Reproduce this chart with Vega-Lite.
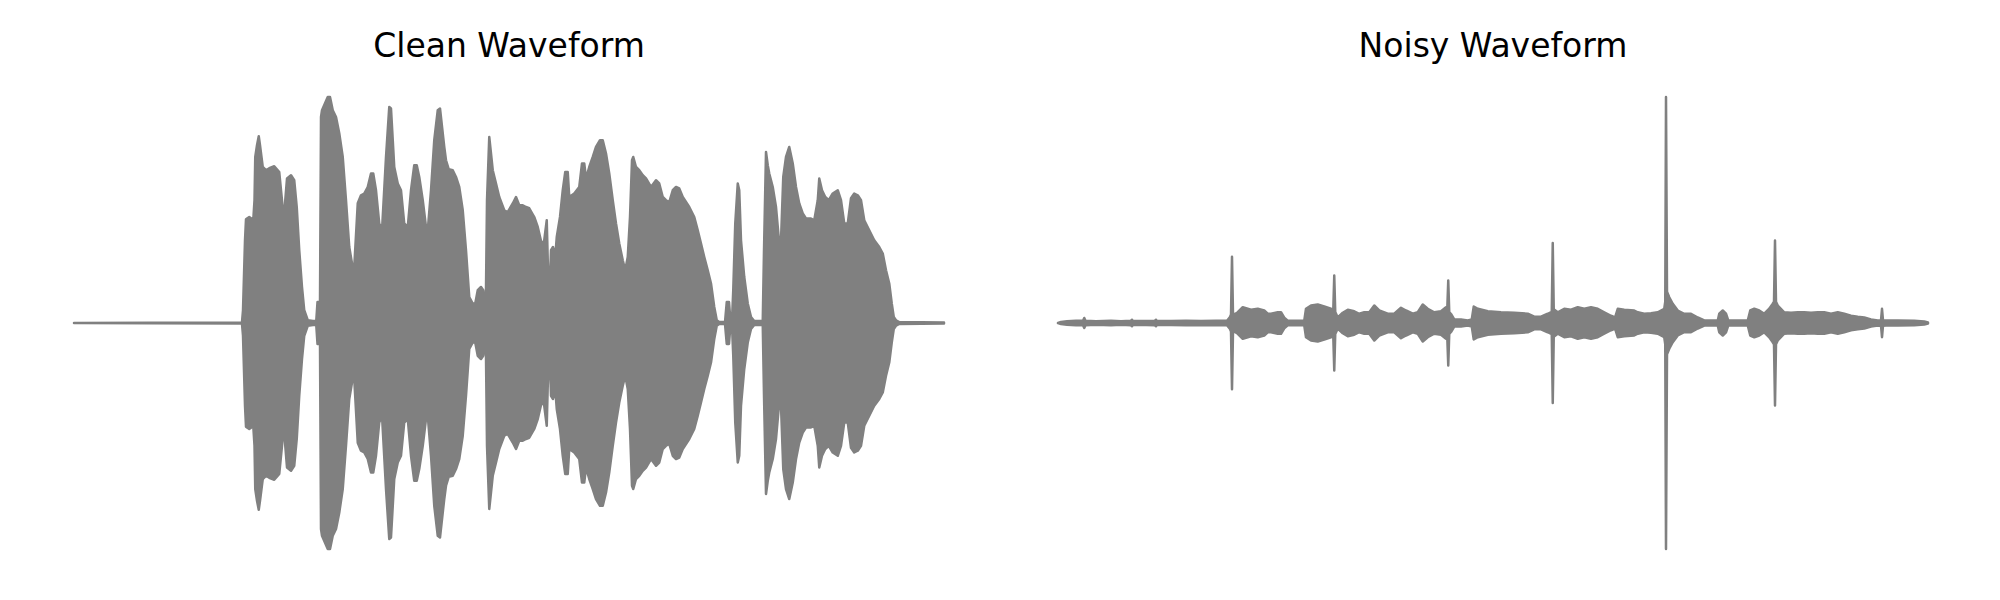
{
"$schema": "https://vega.github.io/schema/vega-lite/v6.json",
"background": "white",
"padding": {"left": 72, "top": 30, "right": 0, "bottom": 0},
"spacing": 110,
"config": {"view": {"stroke": null}},
"datasets": {
"clean": [
{"t":0,"hi":0,"lo":0},{"t":0.308,"hi":0.001,"lo":-0.001},{"t":0.668,"hi":0.002,"lo":-0.002},{"t":0.672,"hi":0.004,"lo":-0.004},{"t":0.676,"hi":0.051,"lo":-0.051},{"t":0.684,"hi":0.331,"lo":-0.331},{"t":0.688,"hi":0.415,"lo":-0.415},{"t":0.692,"hi":0.418,"lo":-0.418},{"t":0.701,"hi":0.424,"lo":-0.424},{"t":0.708,"hi":0.419,"lo":-0.419},{"t":0.717,"hi":0.411,"lo":-0.411},{"t":0.722,"hi":0.491,"lo":-0.491},{"t":0.725,"hi":0.664,"lo":-0.664},{"t":0.732,"hi":0.711,"lo":-0.711},{"t":0.739,"hi":0.747,"lo":-0.747},{"t":0.744,"hi":0.711,"lo":-0.711},{"t":0.755,"hi":0.624,"lo":-0.624},{"t":0.768,"hi":0.611,"lo":-0.611},{"t":0.781,"hi":0.619,"lo":-0.619},{"t":0.801,"hi":0.627,"lo":-0.627},{"t":0.815,"hi":0.611,"lo":-0.611},{"t":0.821,"hi":0.604,"lo":-0.604},{"t":0.832,"hi":0.491,"lo":-0.491},{"t":0.841,"hi":0.404,"lo":-0.404},{"t":0.845,"hi":0.491,"lo":-0.491},{"t":0.852,"hi":0.578,"lo":-0.578},{"t":0.868,"hi":0.591,"lo":-0.591},{"t":0.881,"hi":0.571,"lo":-0.571},{"t":0.891,"hi":0.464,"lo":-0.464},{"t":0.901,"hi":0.291,"lo":-0.291},{"t":0.912,"hi":0.144,"lo":-0.144},{"t":0.921,"hi":0.051,"lo":-0.051},{"t":0.935,"hi":0.011,"lo":-0.011},{"t":0.956,"hi":0.008,"lo":-0.008},{"t":0.969,"hi":0.008,"lo":-0.008},{"t":0.974,"hi":0.084,"lo":-0.084},{"t":0.984,"hi":0.084,"lo":-0.084},{"t":0.988,"hi":0.824,"lo":-0.824},{"t":0.992,"hi":0.851,"lo":-0.851},{"t":1.015,"hi":0.904,"lo":-0.904},{"t":1.024,"hi":0.904,"lo":-0.904},{"t":1.035,"hi":0.851,"lo":-0.851},{"t":1.048,"hi":0.824,"lo":-0.824},{"t":1.061,"hi":0.759,"lo":-0.759},{"t":1.075,"hi":0.664,"lo":-0.664},{"t":1.088,"hi":0.491,"lo":-0.491},{"t":1.101,"hi":0.304,"lo":-0.304},{"t":1.112,"hi":0.238,"lo":-0.238},{"t":1.121,"hi":0.224,"lo":-0.224},{"t":1.135,"hi":0.479,"lo":-0.479},{"t":1.148,"hi":0.511,"lo":-0.511},{"t":1.161,"hi":0.518,"lo":-0.518},{"t":1.175,"hi":0.544,"lo":-0.544},{"t":1.188,"hi":0.598,"lo":-0.598},{"t":1.197,"hi":0.598,"lo":-0.598},{"t":1.208,"hi":0.531,"lo":-0.531},{"t":1.221,"hi":0.398,"lo":-0.398},{"t":1.232,"hi":0.371,"lo":-0.371},{"t":1.248,"hi":0.664,"lo":-0.664},{"t":1.261,"hi":0.864,"lo":-0.864},{"t":1.268,"hi":0.858,"lo":-0.858},{"t":1.281,"hi":0.624,"lo":-0.624},{"t":1.295,"hi":0.558,"lo":-0.558},{"t":1.308,"hi":0.531,"lo":-0.531},{"t":1.321,"hi":0.398,"lo":-0.398},{"t":1.335,"hi":0.384,"lo":-0.384},{"t":1.348,"hi":0.531,"lo":-0.531},{"t":1.361,"hi":0.631,"lo":-0.631},{"t":1.371,"hi":0.631,"lo":-0.631},{"t":1.381,"hi":0.584,"lo":-0.584},{"t":1.395,"hi":0.491,"lo":-0.491},{"t":1.408,"hi":0.384,"lo":-0.384},{"t":1.415,"hi":0.371,"lo":-0.371},{"t":1.428,"hi":0.531,"lo":-0.531},{"t":1.441,"hi":0.731,"lo":-0.731},{"t":1.455,"hi":0.851,"lo":-0.851},{"t":1.464,"hi":0.858,"lo":-0.858},{"t":1.481,"hi":0.704,"lo":-0.704},{"t":1.488,"hi":0.651,"lo":-0.651},{"t":1.499,"hi":0.615,"lo":-0.615},{"t":1.515,"hi":0.611,"lo":-0.611},{"t":1.528,"hi":0.584,"lo":-0.584},{"t":1.541,"hi":0.544,"lo":-0.544},{"t":1.555,"hi":0.451,"lo":-0.451},{"t":1.568,"hi":0.291,"lo":-0.291},{"t":1.581,"hi":0.104,"lo":-0.104},{"t":1.595,"hi":0.078,"lo":-0.078},{"t":1.605,"hi":0.078,"lo":-0.078},{"t":1.615,"hi":0.131,"lo":-0.131},{"t":1.628,"hi":0.144,"lo":-0.144},{"t":1.637,"hi":0.131,"lo":-0.131},{"t":1.647,"hi":0.048,"lo":-0.048},{"t":1.652,"hi":0.491,"lo":-0.491},{"t":1.661,"hi":0.744,"lo":-0.744},{"t":1.675,"hi":0.611,"lo":-0.611},{"t":1.688,"hi":0.558,"lo":-0.558},{"t":1.701,"hi":0.504,"lo":-0.504},{"t":1.721,"hi":0.451,"lo":-0.451},{"t":1.735,"hi":0.444,"lo":-0.444},{"t":1.755,"hi":0.478,"lo":-0.478},{"t":1.768,"hi":0.504,"lo":-0.504},{"t":1.781,"hi":0.471,"lo":-0.471},{"t":1.795,"hi":0.471,"lo":-0.471},{"t":1.808,"hi":0.464,"lo":-0.464},{"t":1.821,"hi":0.459,"lo":-0.459},{"t":1.841,"hi":0.424,"lo":-0.424},{"t":1.855,"hi":0.384,"lo":-0.384},{"t":1.872,"hi":0.311,"lo":-0.311},{"t":1.881,"hi":0.331,"lo":-0.331},{"t":1.891,"hi":0.411,"lo":-0.411},{"t":1.895,"hi":0.251,"lo":-0.251},{"t":1.901,"hi":0.079,"lo":-0.079},{"t":1.908,"hi":0.291,"lo":-0.291},{"t":1.916,"hi":0.304,"lo":-0.304},{"t":1.925,"hi":0.264,"lo":-0.264},{"t":1.931,"hi":0.344,"lo":-0.344},{"t":1.944,"hi":0.424,"lo":-0.424},{"t":1.955,"hi":0.531,"lo":-0.531},{"t":1.965,"hi":0.604,"lo":-0.604},{"t":1.975,"hi":0.604,"lo":-0.604},{"t":1.981,"hi":0.504,"lo":-0.504},{"t":2.001,"hi":0.518,"lo":-0.518},{"t":2.021,"hi":0.544,"lo":-0.544},{"t":2.032,"hi":0.638,"lo":-0.638},{"t":2.041,"hi":0.638,"lo":-0.638},{"t":2.048,"hi":0.578,"lo":-0.578},{"t":2.061,"hi":0.624,"lo":-0.624},{"t":2.075,"hi":0.664,"lo":-0.664},{"t":2.088,"hi":0.704,"lo":-0.704},{"t":2.104,"hi":0.731,"lo":-0.731},{"t":2.115,"hi":0.731,"lo":-0.731},{"t":2.128,"hi":0.678,"lo":-0.678},{"t":2.141,"hi":0.598,"lo":-0.598},{"t":2.155,"hi":0.491,"lo":-0.491},{"t":2.168,"hi":0.398,"lo":-0.398},{"t":2.181,"hi":0.318,"lo":-0.318},{"t":2.195,"hi":0.251,"lo":-0.251},{"t":2.205,"hi":0.211,"lo":-0.211},{"t":2.215,"hi":0.264,"lo":-0.264},{"t":2.224,"hi":0.424,"lo":-0.424},{"t":2.232,"hi":0.651,"lo":-0.651},{"t":2.237,"hi":0.664,"lo":-0.664},{"t":2.248,"hi":0.624,"lo":-0.624},{"t":2.261,"hi":0.611,"lo":-0.611},{"t":2.275,"hi":0.591,"lo":-0.591},{"t":2.288,"hi":0.578,"lo":-0.578},{"t":2.308,"hi":0.544,"lo":-0.544},{"t":2.328,"hi":0.571,"lo":-0.571},{"t":2.341,"hi":0.558,"lo":-0.558},{"t":2.355,"hi":0.504,"lo":-0.504},{"t":2.368,"hi":0.491,"lo":-0.491},{"t":2.381,"hi":0.484,"lo":-0.484},{"t":2.395,"hi":0.531,"lo":-0.531},{"t":2.408,"hi":0.544,"lo":-0.544},{"t":2.421,"hi":0.538,"lo":-0.538},{"t":2.435,"hi":0.504,"lo":-0.504},{"t":2.448,"hi":0.484,"lo":-0.484},{"t":2.461,"hi":0.464,"lo":-0.464},{"t":2.481,"hi":0.424,"lo":-0.424},{"t":2.495,"hi":0.371,"lo":-0.371},{"t":2.508,"hi":0.318,"lo":-0.318},{"t":2.521,"hi":0.264,"lo":-0.264},{"t":2.535,"hi":0.211,"lo":-0.211},{"t":2.548,"hi":0.158,"lo":-0.158},{"t":2.561,"hi":0.064,"lo":-0.064},{"t":2.571,"hi":0.011,"lo":-0.011},{"t":2.581,"hi":0.004,"lo":-0.004},{"t":2.604,"hi":0.004,"lo":-0.004},{"t":2.611,"hi":0.084,"lo":-0.084},{"t":2.62,"hi":0.084,"lo":-0.084},{"t":2.625,"hi":0.019,"lo":-0.019},{"t":2.632,"hi":0.012,"lo":-0.012},{"t":2.637,"hi":0.131,"lo":-0.131},{"t":2.645,"hi":0.398,"lo":-0.398},{"t":2.655,"hi":0.558,"lo":-0.558},{"t":2.661,"hi":0.531,"lo":-0.531},{"t":2.668,"hi":0.331,"lo":-0.331},{"t":2.681,"hi":0.184,"lo":-0.184},{"t":2.695,"hi":0.078,"lo":-0.078},{"t":2.708,"hi":0.024,"lo":-0.024},{"t":2.721,"hi":0.008,"lo":-0.008},{"t":2.755,"hi":0.008,"lo":-0.008},{"t":2.76,"hi":0.291,"lo":-0.291},{"t":2.768,"hi":0.684,"lo":-0.684},{"t":2.775,"hi":0.631,"lo":-0.631},{"t":2.781,"hi":0.598,"lo":-0.598},{"t":2.795,"hi":0.544,"lo":-0.544},{"t":2.808,"hi":0.464,"lo":-0.464},{"t":2.821,"hi":0.318,"lo":-0.318},{"t":2.828,"hi":0.331,"lo":-0.331},{"t":2.837,"hi":0.584,"lo":-0.584},{"t":2.848,"hi":0.664,"lo":-0.664},{"t":2.861,"hi":0.704,"lo":-0.704},{"t":2.875,"hi":0.638,"lo":-0.638},{"t":2.888,"hi":0.544,"lo":-0.544},{"t":2.901,"hi":0.478,"lo":-0.478},{"t":2.915,"hi":0.438,"lo":-0.438},{"t":2.928,"hi":0.418,"lo":-0.418},{"t":2.948,"hi":0.418,"lo":-0.418},{"t":2.961,"hi":0.411,"lo":-0.411},{"t":2.975,"hi":0.491,"lo":-0.491},{"t":2.981,"hi":0.578,"lo":-0.578},{"t":2.992,"hi":0.531,"lo":-0.531},{"t":3.005,"hi":0.504,"lo":-0.504},{"t":3.019,"hi":0.491,"lo":-0.491},{"t":3.035,"hi":0.518,"lo":-0.518},{"t":3.055,"hi":0.531,"lo":-0.531},{"t":3.068,"hi":0.491,"lo":-0.491},{"t":3.081,"hi":0.398,"lo":-0.398},{"t":3.095,"hi":0.398,"lo":-0.398},{"t":3.108,"hi":0.499,"lo":-0.499},{"t":3.121,"hi":0.518,"lo":-0.518},{"t":3.135,"hi":0.511,"lo":-0.511},{"t":3.148,"hi":0.491,"lo":-0.491},{"t":3.161,"hi":0.411,"lo":-0.411},{"t":3.181,"hi":0.371,"lo":-0.371},{"t":3.201,"hi":0.331,"lo":-0.331},{"t":3.221,"hi":0.304,"lo":-0.304},{"t":3.235,"hi":0.278,"lo":-0.278},{"t":3.248,"hi":0.211,"lo":-0.211},{"t":3.261,"hi":0.158,"lo":-0.158},{"t":3.271,"hi":0.078,"lo":-0.078},{"t":3.279,"hi":0.024,"lo":-0.024},{"t":3.288,"hi":0.011,"lo":-0.011},{"t":3.301,"hi":0.004,"lo":-0.004},{"t":3.48,"hi":0.002,"lo":-0.002}
],
"noisy": [
{"t":0,"hi":0,"lo":0},{"t":0.012,"hi":0.004,"lo":-0.004},{"t":0.036,"hi":0.007,"lo":-0.007},{"t":0.072,"hi":0.009,"lo":-0.009},{"t":0.1,"hi":0.009,"lo":-0.009},{"t":0.105,"hi":0.02,"lo":-0.02},{"t":0.11,"hi":0.009,"lo":-0.009},{"t":0.152,"hi":0.007,"lo":-0.007},{"t":0.212,"hi":0.009,"lo":-0.009},{"t":0.252,"hi":0.007,"lo":-0.007},{"t":0.292,"hi":0.009,"lo":-0.009},{"t":0.296,"hi":0.013,"lo":-0.013},{"t":0.3,"hi":0.008,"lo":-0.008},{"t":0.352,"hi":0.008,"lo":-0.008},{"t":0.388,"hi":0.009,"lo":-0.009},{"t":0.392,"hi":0.013,"lo":-0.013},{"t":0.396,"hi":0.008,"lo":-0.008},{"t":0.452,"hi":0.008,"lo":-0.008},{"t":0.512,"hi":0.009,"lo":-0.009},{"t":0.572,"hi":0.008,"lo":-0.008},{"t":0.632,"hi":0.009,"lo":-0.009},{"t":0.676,"hi":0.009,"lo":-0.009},{"t":0.688,"hi":0.024,"lo":-0.024},{"t":0.692,"hi":0.034,"lo":-0.034},{"t":0.696,"hi":0.265,"lo":-0.265},{"t":0.7,"hi":0.034,"lo":-0.034},{"t":0.708,"hi":0.036,"lo":-0.036},{"t":0.719,"hi":0.043,"lo":-0.043},{"t":0.739,"hi":0.063,"lo":-0.063},{"t":0.772,"hi":0.053,"lo":-0.053},{"t":0.799,"hi":0.057,"lo":-0.057},{"t":0.825,"hi":0.05,"lo":-0.05},{"t":0.839,"hi":0.037,"lo":-0.037},{"t":0.852,"hi":0.037,"lo":-0.037},{"t":0.879,"hi":0.043,"lo":-0.043},{"t":0.892,"hi":0.043,"lo":-0.043},{"t":0.905,"hi":0.021,"lo":-0.021},{"t":0.919,"hi":0.009,"lo":-0.009},{"t":0.985,"hi":0.009,"lo":-0.009},{"t":0.992,"hi":0.057,"lo":-0.057},{"t":1.012,"hi":0.07,"lo":-0.07},{"t":1.039,"hi":0.074,"lo":-0.074},{"t":1.065,"hi":0.066,"lo":-0.066},{"t":1.092,"hi":0.057,"lo":-0.057},{"t":1.101,"hi":0.05,"lo":-0.05},{"t":1.105,"hi":0.19,"lo":-0.19},{"t":1.109,"hi":0.044,"lo":-0.044},{"t":1.119,"hi":0.022,"lo":-0.022},{"t":1.139,"hi":0.041,"lo":-0.041},{"t":1.159,"hi":0.053,"lo":-0.053},{"t":1.185,"hi":0.047,"lo":-0.047},{"t":1.205,"hi":0.037,"lo":-0.037},{"t":1.225,"hi":0.043,"lo":-0.043},{"t":1.245,"hi":0.043,"lo":-0.043},{"t":1.265,"hi":0.07,"lo":-0.07},{"t":1.285,"hi":0.05,"lo":-0.05},{"t":1.319,"hi":0.037,"lo":-0.037},{"t":1.345,"hi":0.037,"lo":-0.037},{"t":1.372,"hi":0.061,"lo":-0.061},{"t":1.392,"hi":0.05,"lo":-0.05},{"t":1.419,"hi":0.037,"lo":-0.037},{"t":1.439,"hi":0.043,"lo":-0.043},{"t":1.459,"hi":0.074,"lo":-0.074},{"t":1.479,"hi":0.057,"lo":-0.057},{"t":1.505,"hi":0.043,"lo":-0.043},{"t":1.532,"hi":0.047,"lo":-0.047},{"t":1.552,"hi":0.063,"lo":-0.063},{"t":1.557,"hi":0.055,"lo":-0.055},{"t":1.561,"hi":0.17,"lo":-0.17},{"t":1.565,"hi":0.044,"lo":-0.044},{"t":1.572,"hi":0.036,"lo":-0.036},{"t":1.585,"hi":0.014,"lo":-0.014},{"t":1.612,"hi":0.014,"lo":-0.014},{"t":1.639,"hi":0.01,"lo":-0.01},{"t":1.655,"hi":0.014,"lo":-0.014},{"t":1.663,"hi":0.066,"lo":-0.066},{"t":1.679,"hi":0.057,"lo":-0.057},{"t":1.719,"hi":0.047,"lo":-0.047},{"t":1.772,"hi":0.043,"lo":-0.043},{"t":1.825,"hi":0.041,"lo":-0.041},{"t":1.879,"hi":0.037,"lo":-0.037},{"t":1.905,"hi":0.025,"lo":-0.025},{"t":1.932,"hi":0.025,"lo":-0.025},{"t":1.959,"hi":0.037,"lo":-0.037},{"t":1.975,"hi":0.045,"lo":-0.045},{"t":1.979,"hi":0.32,"lo":-0.32},{"t":1.983,"hi":0.055,"lo":-0.055},{"t":1.999,"hi":0.043,"lo":-0.043},{"t":2.025,"hi":0.057,"lo":-0.057},{"t":2.052,"hi":0.053,"lo":-0.053},{"t":2.079,"hi":0.063,"lo":-0.063},{"t":2.105,"hi":0.057,"lo":-0.057},{"t":2.132,"hi":0.063,"lo":-0.063},{"t":2.159,"hi":0.057,"lo":-0.057},{"t":2.185,"hi":0.043,"lo":-0.043},{"t":2.212,"hi":0.029,"lo":-0.029},{"t":2.228,"hi":0.022,"lo":-0.022},{"t":2.239,"hi":0.057,"lo":-0.057},{"t":2.265,"hi":0.053,"lo":-0.053},{"t":2.305,"hi":0.05,"lo":-0.05},{"t":2.319,"hi":0.043,"lo":-0.043},{"t":2.345,"hi":0.037,"lo":-0.037},{"t":2.372,"hi":0.039,"lo":-0.039},{"t":2.399,"hi":0.043,"lo":-0.043},{"t":2.425,"hi":0.057,"lo":-0.057},{"t":2.429,"hi":0.085,"lo":-0.085},{"t":2.432,"hi":0.904,"lo":-0.904},{"t":2.436,"hi":0.125,"lo":-0.125},{"t":2.445,"hi":0.103,"lo":-0.103},{"t":2.459,"hi":0.077,"lo":-0.077},{"t":2.479,"hi":0.05,"lo":-0.05},{"t":2.505,"hi":0.037,"lo":-0.037},{"t":2.532,"hi":0.037,"lo":-0.037},{"t":2.559,"hi":0.022,"lo":-0.022},{"t":2.585,"hi":0.01,"lo":-0.01},{"t":2.639,"hi":0.01,"lo":-0.01},{"t":2.645,"hi":0.037,"lo":-0.037},{"t":2.659,"hi":0.05,"lo":-0.05},{"t":2.672,"hi":0.037,"lo":-0.037},{"t":2.681,"hi":0.01,"lo":-0.01},{"t":2.759,"hi":0.01,"lo":-0.01},{"t":2.769,"hi":0.05,"lo":-0.05},{"t":2.785,"hi":0.057,"lo":-0.057},{"t":2.805,"hi":0.05,"lo":-0.05},{"t":2.825,"hi":0.037,"lo":-0.037},{"t":2.845,"hi":0.057,"lo":-0.057},{"t":2.859,"hi":0.077,"lo":-0.077},{"t":2.864,"hi":0.085,"lo":-0.085},{"t":2.868,"hi":0.33,"lo":-0.33},{"t":2.872,"hi":0.085,"lo":-0.085},{"t":2.879,"hi":0.07,"lo":-0.07},{"t":2.905,"hi":0.043,"lo":-0.043},{"t":2.932,"hi":0.041,"lo":-0.041},{"t":2.959,"hi":0.043,"lo":-0.043},{"t":2.985,"hi":0.043,"lo":-0.043},{"t":3.012,"hi":0.041,"lo":-0.041},{"t":3.039,"hi":0.043,"lo":-0.043},{"t":3.065,"hi":0.043,"lo":-0.043},{"t":3.092,"hi":0.037,"lo":-0.037},{"t":3.119,"hi":0.043,"lo":-0.043},{"t":3.145,"hi":0.037,"lo":-0.037},{"t":3.172,"hi":0.029,"lo":-0.029},{"t":3.199,"hi":0.025,"lo":-0.025},{"t":3.225,"hi":0.022,"lo":-0.022},{"t":3.252,"hi":0.014,"lo":-0.014},{"t":3.279,"hi":0.01,"lo":-0.01},{"t":3.292,"hi":0.011,"lo":-0.011},{"t":3.296,"hi":0.057,"lo":-0.057},{"t":3.3,"hi":0.011,"lo":-0.011},{"t":3.312,"hi":0.01,"lo":-0.01},{"t":3.359,"hi":0.01,"lo":-0.01},{"t":3.425,"hi":0.009,"lo":-0.009},{"t":3.465,"hi":0.006,"lo":-0.006},{"t":3.48,"hi":0.002,"lo":-0.002}
]
},
"hconcat": [
{
"width": 870, "height": 452,
"title": {"text": "Clean Waveform", "font": "DejaVu Sans", "fontSize": 33, "fontWeight": "normal", "color": "#000000", "anchor": "middle", "baseline": "alphabetic", "offset": 6},
"data": {"name": "clean"},
"mark": {"type": "area", "color": "#808080", "stroke": "#808080", "strokeWidth": 2.5, "strokeJoin": "round", "strokeCap": "round", "opacity": 1, "interpolate": "linear", "orient": "vertical"},
"encoding": {
"x": {"field": "t", "type": "quantitative", "scale": {"domain": [0, 3.48], "nice": false, "zero": false}, "axis": null},
"y": {"field": "hi", "type": "quantitative", "scale": {"domain": [-0.904, 0.904], "nice": false}, "axis": null},
"y2": {"field": "lo"}
}
},
{
"width": 870, "height": 452,
"title": {"text": "Noisy Waveform", "font": "DejaVu Sans", "fontSize": 33, "fontWeight": "normal", "color": "#000000", "anchor": "middle", "baseline": "alphabetic", "offset": 6},
"data": {"name": "noisy"},
"mark": {"type": "area", "color": "#808080", "stroke": "#808080", "strokeWidth": 2.5, "strokeJoin": "round", "strokeCap": "round", "opacity": 1, "interpolate": "linear", "orient": "vertical"},
"encoding": {
"x": {"field": "t", "type": "quantitative", "scale": {"domain": [0, 3.48], "nice": false, "zero": false}, "axis": null},
"y": {"field": "hi", "type": "quantitative", "scale": {"domain": [-0.904, 0.904], "nice": false}, "axis": null},
"y2": {"field": "lo"}
}
}
]
}
